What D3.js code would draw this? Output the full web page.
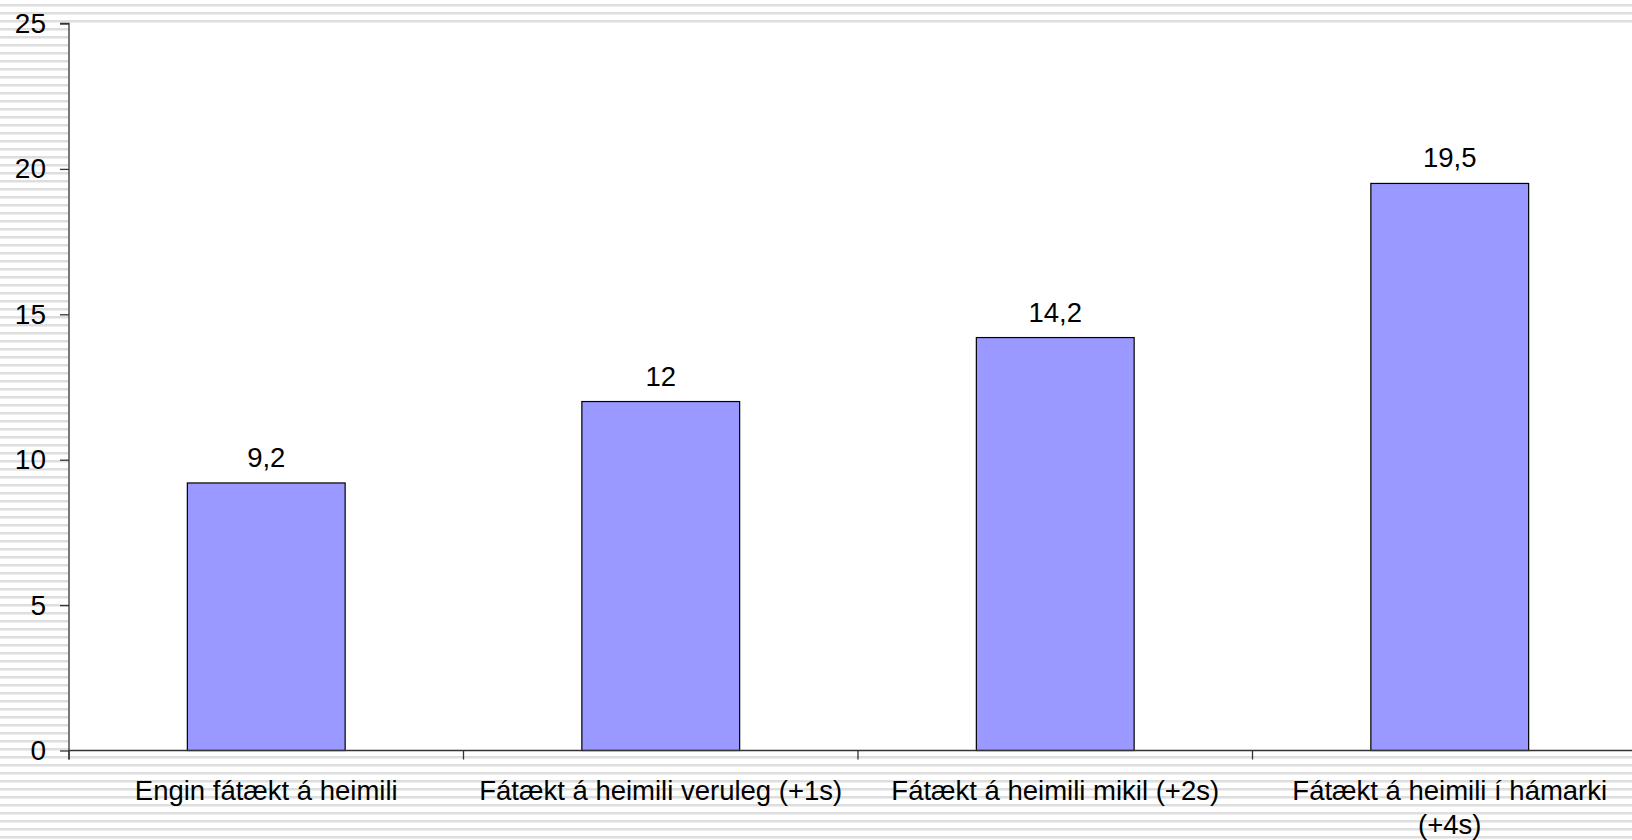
<!DOCTYPE html>
<html>
<head>
<meta charset="utf-8">
<script src="https://cdn.jsdelivr.net/npm/d3@7"></script>
<style>
  html, body { margin: 0; padding: 0; background: #fff; }
  svg { display: block; }
  text { font-family: "Liberation Sans", Arial, sans-serif; fill: #000; }
</style>
</head>
<body>
<svg id="chart" width="1632" height="840"></svg>
<script>
const categories = [
  "Engin fátækt á heimili",
  "Fátækt á heimili veruleg (+1s)",
  "Fátækt á heimili mikil (+2s)",
  "Fátækt á heimili í hámarki (+4s)"
];
const values = [9.2, 12, 14.2, 19.5];
const valueLabels = ["9,2", "12", "14,2", "19,5"];
const yTicks = [0, 5, 10, 15, 20, 25];

(function () {
const W = 1632, H = 840;
const mLeft = 69, mTop = 23.5, mBottom = 750.5;
const bandW = 394.5;
const svg = d3.select("#chart");

// striped background
const defs = svg.append("defs");
const pat = defs.append("pattern").attr("id", "stripes")
  .attr("patternUnits", "userSpaceOnUse").attr("width", 8).attr("height", 8);
pat.append("rect").attr("width", 8).attr("height", 8).attr("fill", "#ffffff");
pat.append("rect").attr("y", 4).attr("width", 8).attr("height", 2).attr("fill", "#dedede");
pat.append("rect").attr("y", 6).attr("width", 8).attr("height", 1).attr("fill", "#eeeeee");
svg.append("rect").attr("width", W).attr("height", H).attr("fill", "url(#stripes)");

const x = d3.scaleBand().domain(categories).range([mLeft, mLeft + bandW * 4]).padding(0);
const y = d3.scaleLinear().domain([0, 25]).range([mBottom, mTop]);

// plot area
svg.append("rect").attr("x", mLeft).attr("y", mTop)
  .attr("width", W - mLeft).attr("height", mBottom - mTop).attr("fill", "#ffffff");

// bars
const bw = x.bandwidth() * 0.4;
svg.selectAll("rect.bar").data(values).enter().append("rect")
  .attr("class", "bar")
  .attr("x", (d, i) => x(categories[i]) + (x.bandwidth() - bw) / 2)
  .attr("y", d => y(d))
  .attr("width", bw)
  .attr("height", d => y(0) - y(d))
  .attr("fill", "#9999ff")
  .attr("stroke", "#000")
  .attr("stroke-width", 1.2);

// value labels
svg.selectAll("text.val").data(values).enter().append("text")
  .attr("class", "val")
  .attr("x", (d, i) => x(categories[i]) + x.bandwidth() / 2)
  .attr("y", d => y(d) - 16)
  .attr("text-anchor", "middle")
  .attr("font-size", 27.5)
  .text((d, i) => valueLabels[i]);

// y axis
const yAxis = d3.axisLeft(y).tickValues(yTicks).tickSize(9).tickPadding(14).tickFormat(d3.format("d"));
const gy = svg.append("g").attr("transform", `translate(${mLeft},0)`).call(yAxis);
gy.select(".domain").attr("stroke", "#333").attr("stroke-width", 1.3).attr("d", `M-9,${mTop}H0V${mBottom + 9}`);
gy.selectAll(".tick line").attr("stroke", "#333").attr("stroke-width", 1.3);
gy.selectAll(".tick text").attr("font-size", 28).attr("fill", "#000")
  .style("font-family", "'Liberation Sans', Arial, sans-serif");

// x axis
const xAxis = d3.axisBottom(x).tickSize(0).tickFormat("");
const gx = svg.append("g").attr("transform", `translate(0,${mBottom})`).call(xAxis);
gx.select(".domain").attr("stroke", "#333").attr("stroke-width", 1.3).attr("d", `M${mLeft},0H${W}`);
const bounds = categories.map(c => x(c)).concat([x.range()[1]]);
gx.selectAll("line.bt").data(bounds).enter().append("line")
  .attr("class", "bt").attr("x1", d => d).attr("x2", d => d)
  .attr("y1", 0).attr("y2", 9).attr("stroke", "#333").attr("stroke-width", 1.3);

// category labels (wrapped)
const ctx = document.createElement("canvas").getContext("2d");
ctx.font = "27.5px 'Liberation Sans', Arial, sans-serif";
function wrapLabel(str, maxW) {
  const words = str.split(" ");
  const lines = [];
  let cur = "";
  words.forEach(w => {
    const t = cur ? cur + " " + w : w;
    if (ctx.measureText(t).width > maxW && cur) { lines.push(cur); cur = w; }
    else cur = t;
  });
  lines.push(cur);
  return lines;
}
categories.forEach((c, i) => {
  const lines = wrapLabel(c, 380);
  const cx = x(c) + x.bandwidth() / 2;
  const t = svg.append("text")
    .attr("x", cx).attr("y", 800)
    .attr("text-anchor", "middle")
    .attr("font-size", 27.5);
  lines.forEach((l, j) => {
    t.append("tspan").attr("x", cx).attr("y", 800 + j * 33.5).text(l);
  });
});
})();
</script>
</body>
</html>
